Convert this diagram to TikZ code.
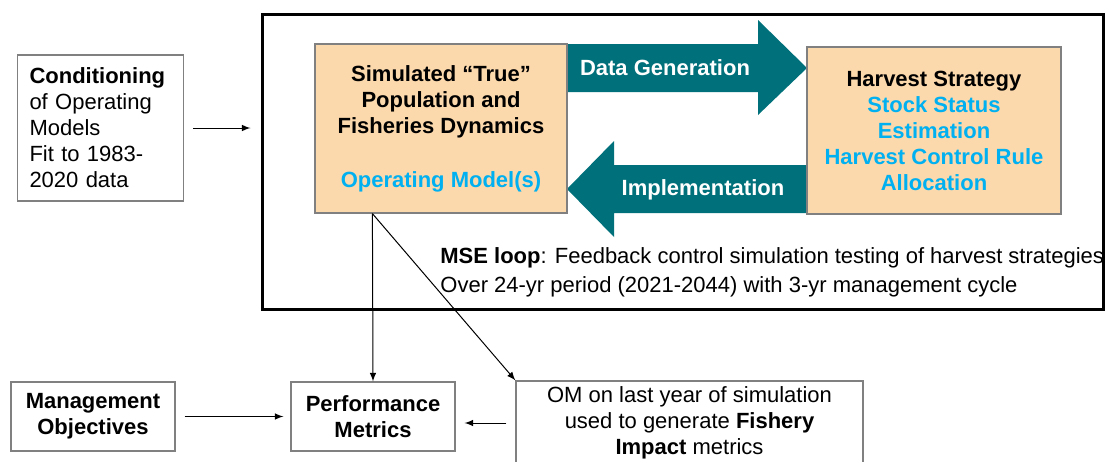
\documentclass[tikz,border=0pt]{standalone}
\usepackage{fontspec}
\setmainfont{Liberation Sans}
\usetikzlibrary{positioning}
\definecolor{peach}{RGB}{252,217,172}
\definecolor{arrowteal}{RGB}{0,112,122}
\definecolor{omblue}{RGB}{0,176,240}
\definecolor{boxgray}{RGB}{128,128,128}
\newcommand\omtext[1]{\textcolor{omblue}{#1}}

\begin{document}
\begin{tikzpicture}[x=0.5pt,y=-0.5pt,
  every node/.style={font=\fontsize{11}{13}\selectfont,inner sep=0pt},
  every path/.style={>=latex},
  box/.style={draw=boxgray,line width=0.6pt},
  boldbox/.style={box,align=center,font=\fontsize{11}{13}\selectfont\bfseries},
  model/.style={boldbox,fill=peach},
  flow/.style={fill=arrowteal},
  flow label/.style={text=white,font=\fontsize{11}{13}\selectfont\bfseries},
  link/.style={->,line width=0.5pt},
  ]
  \useasboundingbox (0,0) rectangle (1107,461);
  \clip (0,0) rectangle (1107,461);

  \node[box,text width=71pt,align=left,inner xsep=6pt,minimum height=73pt] (cond) at (100.5,128)
    {\textbf{Conditioning}\\of Operating\\Models\\Fit to 1983-\\2020 data};
  \node[draw,line width=1.5pt,minimum width=420.5pt,minimum height=147.5pt] (mse) at (682.5,161.5) {};

  \fill[flow] (567,44) -- (758,44) -- (758,20) -- (807,68) -- (758,115) -- (758,92) -- (567,92) -- cycle;
  \fill[flow] (807,165) -- (614,165) -- (614,141) -- (567,189) -- (614,237) -- (614,213) -- (807,213) -- cycle;

  \node[model,minimum width=126pt,minimum height=84.5pt] (sim) at (441,128.5)
    {Simulated “True”\\Population and\\Fisheries Dynamics\\[14pt]\omtext{Operating Model(s)}};
  \node[model,minimum width=127pt,minimum height=83.5pt] (hs) at (934,130.5)
    {Harvest Strategy\\\omtext{Stock Status}\\\omtext{Estimation}\\\omtext{Harvest Control Rule}\\\omtext{Allocation}};
  \node[flow label] (datagen) at (665,68) {Data Generation};
  \node[flow label] (impl) at (703,190) {Implementation};

  \node[anchor=west,align=left] (msetext) at (440,272.5)
    {\textbf{MSE loop}: Feedback control simulation testing of harvest strategies\\[1.5pt]Over 24-yr period (2021-2044) with 3-yr management cycle};

  \node[boldbox,minimum width=82pt,minimum height=34.5pt] (mgmt) at (93,416.5) {Management\\Objectives};
  \node[boldbox,minimum width=82pt,minimum height=34.5pt] (perf) at (373,416.5) {Performance\\Metrics};
  \node[box,align=center,minimum width=173.5pt,minimum height=42pt] (om) at (689.5,423)
    {OM on last year of simulation\\used to generate \textbf{Fishery}\\\textbf{Impact} metrics};

  \coordinate (simfoot) at ([xshift=29pt]sim.south west);
  \draw[link,shorten <=4.5pt,shorten >=5pt] (cond.east) -- (cond.east -| mse.west);
  \draw[link] (simfoot) -- (perf.north);
  \draw[link] (simfoot) -- (om.north west);
  \draw[link,shorten <=4.5pt,shorten >=3.5pt] (mgmt) -- (perf);
  \draw[link,shorten <=4.5pt,shorten >=4.5pt] (om.west) -- (om.west -| perf.east);
\end{tikzpicture}
\end{document}
